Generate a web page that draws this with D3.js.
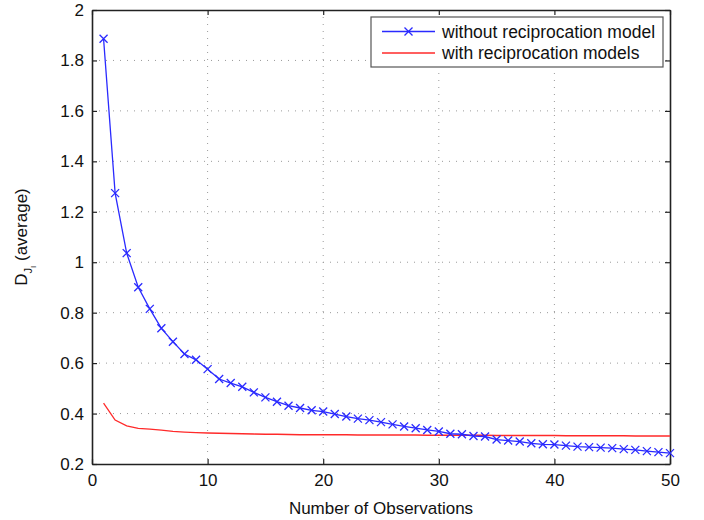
<!DOCTYPE html>
<html>
<head>
<meta charset="utf-8">
<script src="https://cdn.jsdelivr.net/npm/d3@7"></script>
<style>
	body { margin: 0; background: #fff; }
	svg { display: block; font-family: "Liberation Sans", Arial, Helvetica, sans-serif; }
</style>
</head>
<body>
<div id="chart"></div>
<script>
// number of observations, 1..50
var observations = [1,2,3,4,5,6,7,8,9,10,11,12,13,14,15,16,17,18,19,20,21,22,23,24,25,26,27,28,29,30,31,32,33,34,35,36,37,38,39,40,41,42,43,44,45,46,47,48,49,50];

var withoutReciprocation = [1.886,1.274,1.036,0.901,0.815,0.738,0.685,0.636,0.613,0.576,
	0.537,0.521,0.506,0.484,0.464,0.447,0.431,0.422,0.413,0.408,
	0.398,0.388,0.380,0.374,0.366,0.357,0.349,0.342,0.335,0.329,
	0.320,0.318,0.311,0.309,0.297,0.293,0.289,0.282,0.278,0.277,
	0.273,0.269,0.267,0.265,0.263,0.259,0.256,0.251,0.247,0.243];

var withReciprocation = [0.441,0.374,0.351,0.341,0.338,0.334,0.329,0.326,0.324,0.323,
	0.322,0.321,0.320,0.319,0.318,0.318,0.317,0.316,0.316,0.316,
	0.316,0.316,0.315,0.315,0.315,0.315,0.315,0.315,0.314,0.314,
	0.314,0.314,0.314,0.314,0.313,0.313,0.313,0.313,0.313,0.313,
	0.312,0.312,0.312,0.312,0.312,0.312,0.311,0.311,0.311,0.311];

var xTicks = [0, 10, 20, 30, 40, 50];
var yTicks = [0.2, 0.4, 0.6, 0.8, 1, 1.2, 1.4, 1.6, 1.8, 2];

var seriesNames = ["without reciprocation model", "with reciprocation models"];
var seriesColors = ["#2a2aff", "#ff2a2a"];

var width = 704, height = 520;
var margin = {top: 10, right: 34, bottom: 56, left: 92};
var w = width - margin.left - margin.right;
var h = height - margin.top - margin.bottom;

var svg = d3.select("#chart").append("svg")
	.attr("width", width)
	.attr("height", height);

var g = svg.append("g")
	.attr("transform", `translate(${margin.left}, ${margin.top})`);

var x = d3.scaleLinear().domain([0, 50]).range([0, w]);
var y = d3.scaleLinear().domain([0.2, 2]).range([h, 0]);

// grid
g.append("g").selectAll("line")
	.data(xTicks.slice(1, -1))
	.enter().append("line")
	.attr("x1", d => x(d)).attr("x2", d => x(d))
	.attr("y1", 0).attr("y2", h)
	.attr("stroke", "#9a9a9a")
	.attr("stroke-width", 1)
	.attr("stroke-dasharray", "1,6");

g.append("g").selectAll("line")
	.data(yTicks.slice(1, -1))
	.enter().append("line")
	.attr("x1", 0).attr("x2", w)
	.attr("y1", d => y(d)).attr("y2", d => y(d))
	.attr("stroke", "#9a9a9a")
	.attr("stroke-width", 1)
	.attr("stroke-dasharray", "1,6");

// axes, ticks inward on all four sides
var tickFmt = d => String(d);
var axes = [
	{axis: d3.axisBottom(x).tickValues(xTicks).tickFormat(tickFmt).tickSizeInner(-5).tickSizeOuter(0).tickPadding(10), t: `translate(0, ${h})`},
	{axis: d3.axisTop(x).tickValues(xTicks).tickFormat("").tickSizeInner(-5).tickSizeOuter(0), t: "translate(0, 0)"},
	{axis: d3.axisLeft(y).tickValues(yTicks).tickFormat(tickFmt).tickSizeInner(-5).tickSizeOuter(0).tickPadding(8), t: "translate(0, 0)"},
	{axis: d3.axisRight(y).tickValues(yTicks).tickFormat("").tickSizeInner(-5).tickSizeOuter(0), t: `translate(${w}, 0)`}
];
axes.forEach(function(a) {
	var ag = g.append("g").attr("transform", a.t).call(a.axis);
	ag.select(".domain").attr("stroke", "#222").attr("stroke-width", 1.6);
	ag.selectAll(".tick line").attr("stroke", "#222").attr("stroke-width", 1.2);
	ag.selectAll("text").attr("fill", "#111").style("font-size", "17px").style("font-family", "'Liberation Sans', Arial, sans-serif");
});

// lines
var line = d3.line()
	.x((d, i) => x(observations[i]))
	.y(d => y(d));

g.append("path")
	.datum(withReciprocation)
	.attr("fill", "none")
	.attr("stroke", seriesColors[1])
	.attr("stroke-width", 1.3)
	.attr("d", line);

g.append("path")
	.datum(withoutReciprocation)
	.attr("fill", "none")
	.attr("stroke", seriesColors[0])
	.attr("stroke-width", 1.3)
	.attr("d", line);

var m = 4;
function cross(sel, color) {
	sel.append("path")
		.attr("d", `M${-m},${-m}L${m},${m}M${-m},${m}L${m},${-m}`)
		.attr("stroke", color)
		.attr("stroke-width", 1.3)
		.attr("fill", "none");
}

g.append("g").selectAll("g")
	.data(withoutReciprocation)
	.enter().append("g")
	.attr("transform", (d, i) => `translate(${x(observations[i])}, ${y(d)})`)
	.each(function() { cross(d3.select(this), seriesColors[0]); });

// legend
var legend = g.append("g").attr("transform", `translate(${279}, ${7})`);
legend.append("rect")
	.attr("width", 292).attr("height", 50)
	.attr("fill", "#fff")
	.attr("stroke", "#555")
	.attr("stroke-width", 1.2);

seriesNames.forEach(function(name, i) {
	var row = legend.append("g").attr("transform", `translate(0, ${14.5 + i * 21.5})`);
	row.append("line")
		.attr("x1", 11).attr("x2", 64)
		.attr("stroke", seriesColors[i])
		.attr("stroke-width", 1.3);
	if (i === 0) {
		var c = row.append("g").attr("transform", "translate(37.5, 0)");
		cross(c, seriesColors[0]);
	}
	row.append("text")
		.attr("x", 71)
		.attr("dy", "0.35em")
		.style("font-size", "17.5px")
		.attr("fill", "#111")
		.text(name);
});

// axis labels
svg.append("text")
	.attr("x", margin.left + w / 2)
	.attr("y", 514)
	.attr("text-anchor", "middle")
	.style("font-size", "17px")
	.attr("fill", "#111")
	.text("Number of Observations");

var yl = svg.append("text")
	.attr("transform", `translate(27, ${margin.top + h / 2}) rotate(-90)`)
	.attr("text-anchor", "middle")
	.style("font-size", "17px")
	.attr("fill", "#111");
yl.append("tspan").text("D");
yl.append("tspan").attr("dy", 5).style("font-size", "11px").text("J");
yl.append("tspan").attr("dy", 4).style("font-size", "8px").text("I");
yl.append("tspan").attr("dy", -9).text(" (average)");
</script>
</body>
</html>
